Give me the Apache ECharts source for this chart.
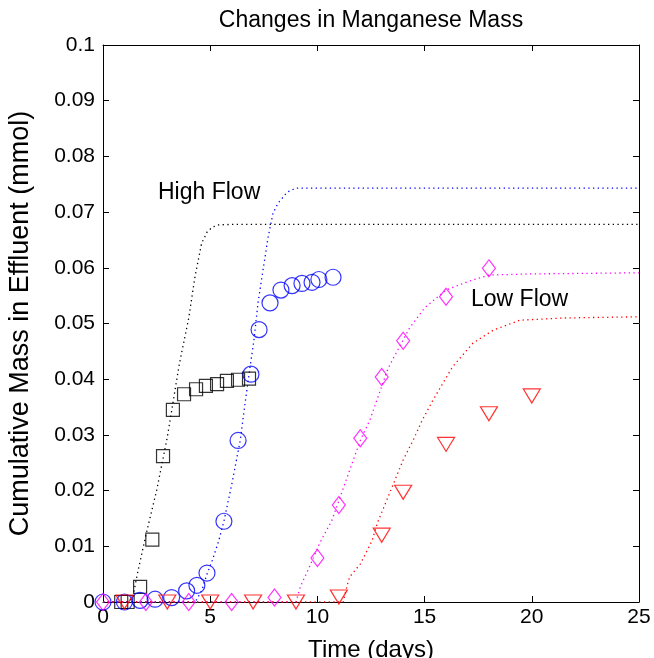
<!DOCTYPE html>
<html><head><meta charset="utf-8">
<script src="https://cdn.jsdelivr.net/npm/echarts@6/dist/echarts.min.js"></script>
<style>html,body{margin:0;padding:0;background:#fff}#c{width:654px;height:658px}</style>
</head><body><div id="c"></div>
<script>
// Measured data (days, mmol)
const squareT = [0.85, 1.15, 1.73, 2.3, 2.8, 3.26, 3.78, 4.34, 4.8, 5.32, 5.78, 6.3, 6.81];
const squareV = [0, 0, 0.0027, 0.0112, 0.0262, 0.0345, 0.0373, 0.0382, 0.0388, 0.0391, 0.0397, 0.0399, 0.0401];
const circleT = [0, 1.0, 1.73, 2.43, 3.2, 3.9, 4.38, 4.85, 5.64, 6.3, 6.9, 7.28, 7.79, 8.3, 8.82, 9.28, 9.75, 10.07, 10.73];
const circleV = [0, 0, 0.0003, 0.0005, 0.0008, 0.002, 0.003, 0.0052, 0.0145, 0.029, 0.0409, 0.0489, 0.0537, 0.056, 0.0568, 0.0572, 0.0574, 0.0579, 0.0583];
const diamondT = [0, 2, 4, 6, 8, 10, 11, 12, 13, 14, 16, 18];
const diamondV = [0, 0, 0, 0, 0.0008, 0.0079, 0.0174, 0.0294, 0.0404, 0.0469, 0.0548, 0.0599];
const triT = [1, 3, 5, 7, 9, 11, 13, 14, 16, 18, 20];
const triV = [0, 0, 0, 0, 0, 0.0009, 0.012, 0.0197, 0.0283, 0.0338, 0.037];
// Model curves
const blackCurveT = [0, 1.2, 1.4, 1.6, 2.0, 2.5, 3.0, 3.55, 4.0, 4.29, 4.6, 4.85, 5.1, 5.4, 6, 25];
const blackCurveV = [0, 0, 0.001, 0.005, 0.012, 0.02, 0.0296, 0.0425, 0.051, 0.0584, 0.0644, 0.0664, 0.0673, 0.0677, 0.0678, 0.0678];
const blueCurveT = [0, 4.3, 4.6, 4.85, 5.1, 5.4, 5.64, 6.0, 6.4, 6.62, 6.86, 7.04, 7.23, 7.5, 7.7, 7.93, 8.16, 8.6, 9, 25];
const blueCurveV = [0, 0, 0.002, 0.005, 0.0075, 0.011, 0.0145, 0.021, 0.029, 0.0355, 0.0422, 0.047, 0.0537, 0.0605, 0.0655, 0.0698, 0.0716, 0.0736, 0.0743, 0.0743];
const magCurveT = [0, 9.0, 9.2, 9.56, 10.1, 10.68, 11.38, 12.0, 12.45, 13.3, 14.3, 15.0, 16.0, 17.0, 18.0, 20, 25];
const magCurveV = [0, 0, 0.0027, 0.0057, 0.0105, 0.0147, 0.0223, 0.029, 0.0327, 0.042, 0.0492, 0.0528, 0.056, 0.0575, 0.0587, 0.0589, 0.0591];
const redCurveT = [0, 11.2, 11.37, 11.5, 12.0, 12.55, 12.8, 13.3, 14.0, 14.46, 14.9, 15.4, 16.3, 17.26, 18.2, 19.45, 21.6, 25];
const redCurveV = [0, 0, 0.0027, 0.0045, 0.0068, 0.011, 0.0142, 0.0189, 0.0255, 0.029, 0.0327, 0.0363, 0.0422, 0.0465, 0.0488, 0.0506, 0.051, 0.0512];
const xTicks = [0, 5, 10, 15, 20, 25];
const yTickStep = 0.01;

const zip = (a, b) => a.map((v, i) => [v, b[i]]);
const FONT = 'Liberation Sans';

function curve(name, t, v, color) {
  return { name, type: 'line', data: zip(t, v), showSymbol: false, symbol: 'none', silent: true,
    lineStyle: { color, width: 1.3, type: [1.3, 3.4] }, z: 2 };
}
function marks(name, t, v, color, symbol, size, rotate) {
  return { name, type: 'scatter', data: zip(t, v), symbol, symbolSize: size, symbolRotate: rotate || 0,
    itemStyle: { color: 'rgba(0,0,0,0)', borderColor: color, borderWidth: 1.2 }, z: 3 };
}

const chart = echarts.init(document.getElementById('c'), null, { renderer: 'canvas' });
function axisCommon() {
  return {
    axisLine: { show: true, onZero: false, lineStyle: { color: '#000', width: 1 } },
    axisTick: { show: true, inside: true, length: 6, lineStyle: { color: '#000' } },
    splitLine: { show: false }
  };
}
chart.setOption({
  animation: false,
  backgroundColor: '#fff',
  grid: { left: 103, right: 15, top: 45, bottom: 56, containLabel: false, outerBoundsMode: 'none' },
  xAxis: [
    Object.assign({ type: 'value', min: 0, max: 25, interval: 5, position: 'bottom',
      name: 'Time (days)', nameLocation: 'middle', nameGap: 36,
      nameTextStyle: { fontFamily: FONT, fontSize: 24, color: '#000' },
      axisLabel: { fontFamily: FONT, fontSize: 21, color: '#000', margin: 5,
        customValues: xTicks } }, axisCommon()),
    Object.assign({ type: 'value', min: 0, max: 25, interval: 5, position: 'top',
      axisLabel: { show: false } }, axisCommon())
  ],
  yAxis: [
    Object.assign({ type: 'value', min: 0, max: 0.1, interval: yTickStep, position: 'left',
      name: 'Cumulative Mass in Effluent (mmol)', nameLocation: 'middle', nameGap: 69,
      nameTextStyle: { fontFamily: FONT, fontSize: 27, color: '#000' },
      axisLabel: { fontFamily: FONT, fontSize: 21, color: '#000', margin: 8,
        formatter: v => String(+v.toFixed(2)) } }, axisCommon()),
    Object.assign({ type: 'value', min: 0, max: 0.1, interval: yTickStep, position: 'right',
      axisLabel: { show: false } }, axisCommon())
  ],
  series: [
    curve('Black model', blackCurveT, blackCurveV, '#000000'),
    curve('Blue model', blueCurveT, blueCurveV, '#0000ff'),
    curve('Magenta model', magCurveT, magCurveV, '#ff00ff'),
    curve('Red model', redCurveT, redCurveV, '#ff0000'),
    marks('Squares', squareT, squareV, '#000000', 'rect', 13),
    marks('Circles', circleT, circleV, '#0000ff', 'circle', 16),
    marks('Diamonds', diamondT, diamondV, '#ff00ff', 'diamond', [13, 17]),
    marks('Triangles', triT, triV, '#ff0000', 'triangle', [17, 14], 180)
  ],
  graphic: [
    { type: 'text', x: 371, y: 9, style: { text: 'Changes in Manganese Mass', font: '23px "Liberation Sans"', fill: '#000', align: 'center' } },
    { type: 'text', left: 158, top: 181, style: { text: 'High Flow', font: '23px "Liberation Sans"', fill: '#000' } },
    { type: 'text', left: 471, top: 288, style: { text: 'Low Flow', font: '23px "Liberation Sans"', fill: '#000' } }
  ]
});
</script></body></html>
